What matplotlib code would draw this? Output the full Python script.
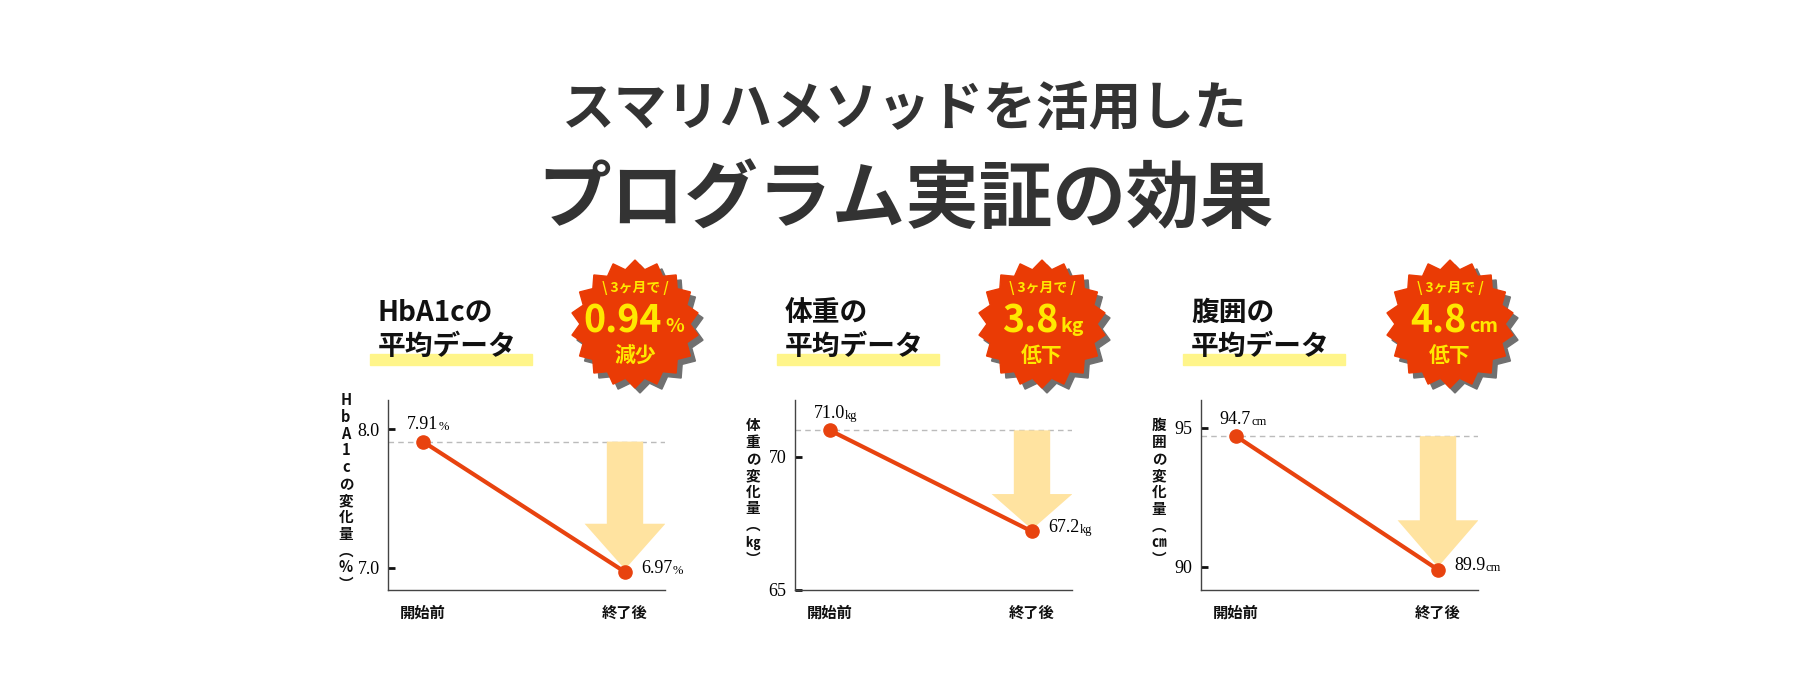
import numpy as np
import matplotlib
matplotlib.use("Agg")
import matplotlib.pyplot as plt

plt.rcParams['font.family'] = ['Noto Sans CJK JP', 'DejaVu Sans']

categories = ["開始前", "終了後"]
titles = ["HbA1cの", "体重の", "腹囲の"]
ylabels = [list("HbA1cの変化量") + ["︵", "%", "︶"],
           list("体重の変化量") + ["︵", "㎏", "︶"],
           list("腹囲の変化量") + ["︵", "㎝", "︶"]]
start_vals = [7.91, 71.0, 94.7]
end_vals = [6.97, 67.2, 89.9]
val_fmt = ["{:.2f}", "{:.1f}", "{:.1f}"]
units = ["%", "kg", "cm"]
yticks = [[7.0, 8.0], [65, 70], [90, 95]]
ytick_labels = [["7.0", "8.0"], ["65", "70"], ["90", "95"]]
ylims = [(6.84, 8.21), (65.0, 72.14), (89.17, 96.0)]
badge_nums = ["0.94", "3.8", "4.8"]
badge_units = ["%", "kg", "cm"]
badge_words = ["減少", "低下", "低下"]

W, H = 1800, 683
fig = plt.figure(figsize=(18, 6.83), dpi=100)
ov = fig.add_axes([0, 0, 1, 1])
ov.set_xlim(0, W); ov.set_ylim(H, 0); ov.axis('off')

RED = "#EA3B05"; LINE = "#E8430F"; YEL = "#FFE800"; HL = "#FFF58A"; ARROW = "#FFE3A0"
SERIF = ['Liberation Serif', 'DejaVu Serif']

ov.text(905, 109, "スマリハメソッドを活用した", ha='center', va='center',
        fontsize=38, fontweight='bold', color='#333333')
ov.text(905, 201, "プログラム実証の効果", ha='center', va='center',
        fontsize=53, fontweight='bold', color='#333333')

lefts = [388, 795, 1201]
badge_cx = [635, 1042, 1450]
for i in range(3):
    L = lefts[i]
    ov.add_patch(plt.Rectangle((L - 18, 354), 162, 11, color=HL, zorder=1))
    ov.text(L - 10, 313, titles[i], ha='left', va='center', fontsize=20, fontweight='bold', color='#111111', zorder=2)
    ov.text(L - 10, 347, "平均データ", ha='left', va='center', fontsize=20, fontweight='bold', color='#111111', zorder=2)
    cx, cy, r = badge_cx[i], 324, 64
    n = 36
    ang = np.linspace(0, 2 * np.pi, n, endpoint=False) + np.pi / 2
    rad = np.where(np.arange(n) % 2 == 0, r, r * 0.86)
    xs = cx + rad * np.cos(ang); ys = cy + rad * np.sin(ang)
    ov.fill(xs + 5, ys + 5, color='#707070', zorder=3)
    ov.fill(xs, ys, color=RED, zorder=4)
    ov.text(cx, cy - 36, "\\ 3ヶ月で /", ha='center', va='center', fontsize=10, fontweight='bold', color=YEL, zorder=5)
    num = ov.text(cx - 12, cy - 3, badge_nums[i], ha='center', va='center', fontsize=27, fontweight='bold', color=YEL, zorder=5)
    ov.annotate(badge_units[i], xy=(1, 0.35), xycoords=num, xytext=(2, 0), textcoords='offset points',
                ha='left', va='center', fontsize=14, fontweight='bold', color=YEL, zorder=5)
    ov.text(cx, cy + 31, badge_words[i], ha='center', va='center', fontsize=15, fontweight='bold', color=YEL, zorder=5)
    lab = ylabels[i]
    ov.text(L - 42, 492, "\n".join(lab), ha='center', va='center', fontsize=10.5, fontweight='bold',
            color='#111111', linespacing=1.05)

    ax = fig.add_axes([L / W, 1 - 590 / H, 277 / W, 190 / H])
    ax.set_xlim(-0.173, 1.198)
    ax.set_ylim(*ylims[i])
    for s in ['top', 'right']:
        ax.spines[s].set_visible(False)
    for s in ['left', 'bottom']:
        ax.spines[s].set_color('#444444'); ax.spines[s].set_linewidth(1.0)
    ax.set_xticks([])
    ax.set_yticks(yticks[i])
    ax.set_yticklabels(ytick_labels[i], fontsize=13, family=SERIF)
    ax.tick_params(axis='y', direction='in', length=5, width=2, pad=6, color='#111111')
    ax.patch.set_alpha(0)
    s0, s1 = start_vals[i], end_vals[i]
    ax.axhline(s0, color='#BBBBBB', ls=(0, (4, 3)), lw=1, zorder=1)
    d = s0 - s1
    hy = s0 - 0.63 * d
    ax.fill([0.91, 1.09, 1.09, 1.2, 1.0, 0.8, 0.91, 0.91],
            [s0, s0, hy, hy, s1 + 0.02 * d, hy, hy, s0], color=ARROW, lw=0, zorder=2)
    ax.plot([0, 1], [s0, s1], color=LINE, lw=3, zorder=3, solid_capstyle='round')
    ax.scatter([0, 1], [s0, s1], s=90, color=LINE, zorder=4)
    sp = ylims[i][1] - ylims[i][0]
    st = ax.text(-0.08, s0 + 0.09 * sp, val_fmt[i].format(s0), ha='left', va='center', fontsize=13, family=SERIF)
    t = ax.text(1.08, s1 + 0.02 * sp, val_fmt[i].format(s1), ha='left', va='center', fontsize=13, family=SERIF)
    for tx in (st, t):
        ax.annotate(units[i], xy=(1, 0.35), xycoords=tx, xytext=(0, 0), textcoords='offset points',
                    ha='left', va='center', fontsize=9, family=SERIF)
    for k, c in enumerate(categories):
        ax.text(k, -0.12, c, transform=ax.get_xaxis_transform(), ha='center', va='center',
                fontsize=11, fontweight='bold', color='#111111')

fig.savefig("out.png", dpi=100, facecolor='white')
